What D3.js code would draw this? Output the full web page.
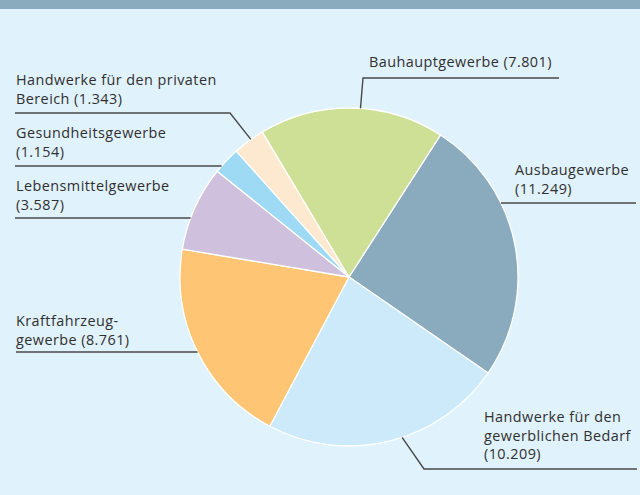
<!DOCTYPE html>
<html><head><meta charset="utf-8">
<script src="https://cdn.jsdelivr.net/npm/d3@7"></script>
<style>html,body{margin:0;padding:0;background:#e0f2fc;}svg{display:block;}</style>
</head><body>
<svg id="chart" width="640" height="495"></svg>
<script>
// Data (clockwise, starting at the top right)
const categories = ["Ausbaugewerbe", "Handwerke für den gewerblichen Bedarf", "Kraftfahrzeuggewerbe",
  "Lebensmittelgewerbe", "Gesundheitsgewerbe", "Handwerke für den privaten Bereich", "Bauhauptgewerbe"];
const values = [11249, 10209, 8761, 3587, 1154, 1343, 7801];
const labelLines = [
  ["Ausbaugewerbe", "(11.249)"],
  ["Handwerke für den", "gewerblichen Bedarf", "(10.209)"],
  ["Kraftfahrzeug-", "gewerbe (8.761)"],
  ["Lebensmittelgewerbe", "(3.587)"],
  ["Gesundheitsgewerbe", "(1.154)"],
  ["Handwerke für den privaten", "Bereich (1.343)"],
  ["Bauhauptgewerbe (7.801)"]
];
const colors = ["#8aabbd", "#cdeafa", "#fec674", "#cfc0de", "#9fdaf5", "#fde9cf", "#cde096"];

// Layout
const W = 640, H = 495, cx = 349, cy = 277, R = 169;
const deg = Math.PI / 180;
const startAngle = 32.8 * deg;
const layout = [
  {tx: 515, ty: 175, type: "h", y: 203, x2: 636},
  {tx: 484, ty: 422, type: "elbow", ang: 161.7, ex: 424, ey: 469, x2: 637},
  {tx: 16, ty: 326, type: "h", y: 352, x2: 16},
  {tx: 16, ty: 191, type: "h", y: 218, x2: 15},
  {tx: 16, ty: 138, type: "h", y: 166, x2: 15},
  {tx: 16, ty: 85, type: "elbow", ang: 324.5, ex: 230, ey: 113, x2: 15},
  {tx: 369, ty: 67, type: "elbow", ang: 3.9, ex: 363, ey: 78, x2: 559}
];
const lineStep = 18.5;

const svg = d3.select("#chart");
svg.append("rect").attr("width", W).attr("height", H).attr("fill", "#e0f2fc");
svg.append("rect").attr("width", W).attr("height", 9).attr("fill", "#8aabbd");

const pie = d3.pie().sort(null).value(d => d).startAngle(startAngle).endAngle(startAngle + 2 * Math.PI);
const arcs = pie(values);
const arc = d3.arc().innerRadius(0).outerRadius(R);

const g = svg.append("g").attr("transform", `translate(${cx},${cy})`);
g.selectAll("path").data(arcs).join("path")
  .attr("d", arc)
  .attr("fill", (d, i) => colors[i])
  .attr("stroke", "#ffffff")
  .attr("stroke-width", 1.3)
  .attr("stroke-linejoin", "round");

// leaders
const lineColor = "#484848";
const leaders = svg.append("g").attr("fill", "none").attr("stroke", lineColor).attr("stroke-width", 1.4);
layout.forEach((L, i) => {
  let pts;
  if (L.type === "h") {
    const dy = L.y - cy;
    const dx = Math.sqrt(R * R - dy * dy);
    const xEdge = L.x2 > cx ? cx + dx : cx - dx;
    pts = [[xEdge, L.y], [L.x2, L.y]];
  } else {
    const a = L.ang * deg;
    pts = [[cx + R * Math.sin(a), cy - R * Math.cos(a)], [L.ex, L.ey], [L.x2, L.ey]];
  }
  leaders.append("path").attr("d", d3.line()(pts));
});

// labels (one text element per line)
const labels = svg.append("g")
  .attr("font-family", "'Open Sans', 'Noto Sans', sans-serif")
  .attr("font-size", 14.4)
  .attr("letter-spacing", 0.45)
  .attr("fill", "#303030");
labelLines.forEach((lines, i) => {
  const L = layout[i];
  lines.forEach((s, j) => {
    labels.append("text").attr("x", L.tx).attr("y", L.ty + j * lineStep).text(s);
  });
});
</script>
</body></html>
